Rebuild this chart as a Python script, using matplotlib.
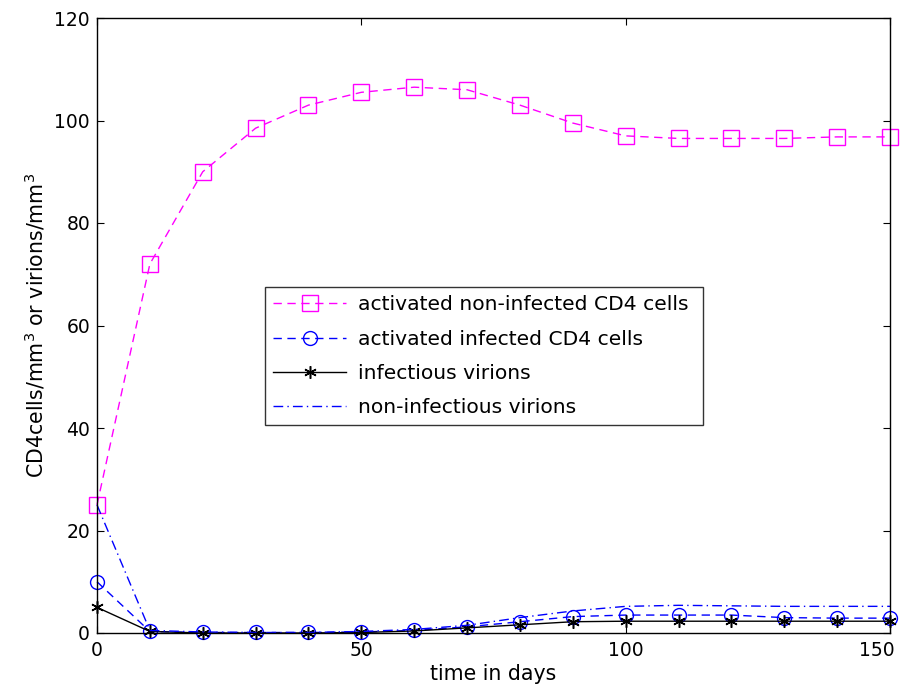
import matplotlib
matplotlib.use("Agg")
import matplotlib.pyplot as plt
import matplotlib.transforms as mtransforms

days = [0, 10, 20, 30, 40, 50, 60, 70, 80, 90, 100, 110, 120, 130, 140, 150]
activated_noninfected = [25, 72, 90, 98.5, 103, 105.5, 106.5, 106, 103, 99.5, 97, 96.5, 96.5, 96.5, 96.8, 96.8]
activated_infected = [10, 0.3, 0.1, 0.1, 0.1, 0.2, 0.5, 1.2, 2.2, 3.2, 3.5, 3.5, 3.5, 3.0, 2.9, 2.9]
infectious_virions = [5, 0.3, 0.0, 0.0, 0.0, 0.1, 0.4, 1.0, 1.6, 2.2, 2.3, 2.3, 2.3, 2.3, 2.3, 2.3]
noninfectious_virions = [25, 0.5, 0.2, 0.1, 0.1, 0.3, 0.7, 1.5, 3.0, 4.3, 5.2, 5.4, 5.3, 5.2, 5.2, 5.2]

plt.rcParams['font.family'] = ['DejaVu Sans']

fig = plt.figure(figsize=(9.06, 6.99), dpi=100)
ax = fig.add_axes([97/906, 1-633/699, 793/906, 615/699])

ax.plot(days, activated_noninfected, color='#ff00ff', linestyle=(0, (6, 4)), marker='s',
        markersize=11, markerfacecolor='none', markeredgewidth=1.0, linewidth=1.0,
        clip_on=False, label='activated non-infected CD4 cells')
ax.plot(days, activated_infected, color='#0000ff', linestyle=(0, (6, 4)), marker='o',
        markersize=10, markerfacecolor='none', markeredgewidth=1.0, linewidth=1.0,
        clip_on=False, label='activated infected CD4 cells')
ax.plot(days, infectious_virions, color='black', linestyle='-', marker=(6, 2, 0),
        markersize=9, markeredgewidth=1.1, linewidth=1.0,
        clip_on=False, label='infectious virions')
ax.plot(days, noninfectious_virions, color='#0000ff', linestyle=(0, (7, 3, 1, 3)),
        linewidth=1.0, clip_on=False, label='non-infectious virions')

ax.set_xlim(0, 150)
ax.set_ylim(0, 120)
ax.set_xticks([0, 50, 100, 150])
ax.set_yticks([0, 20, 40, 60, 80, 100, 120])
ax.tick_params(direction='in', length=5, labelsize=13.5, top=True, right=True,
               labeltop=False, labelright=False)
ax.tick_params(axis='x', pad=6)
ax.tick_params(axis='y', pad=5)
for s in ax.spines.values():
    s.set_linewidth(1.0)

ax.set_xlabel('time in days', fontsize=14.8, labelpad=3)
ax.set_ylabel('CD4cells/mm$^3$ or virions/mm$^3$', fontsize=14.8, labelpad=5)

leg = ax.legend(loc='lower left', bbox_to_anchor=(0.212, 0.338, 0.552, 0.236), mode='expand',
                fontsize=14.6, handlelength=3.6, handletextpad=0.6, frameon=True, fancybox=False,
                edgecolor='black', borderaxespad=0, labelspacing=0.75, borderpad=0.4)
leg.get_frame().set_linewidth(1.0)

fig.canvas.draw()
last = ax.get_xticklabels()[-1]
last.set_horizontalalignment('right')
last.set_transform(last.get_transform() + mtransforms.ScaledTranslation(5/100, 0, fig.dpi_scale_trans))

fig.savefig('out.png', dpi=100)
